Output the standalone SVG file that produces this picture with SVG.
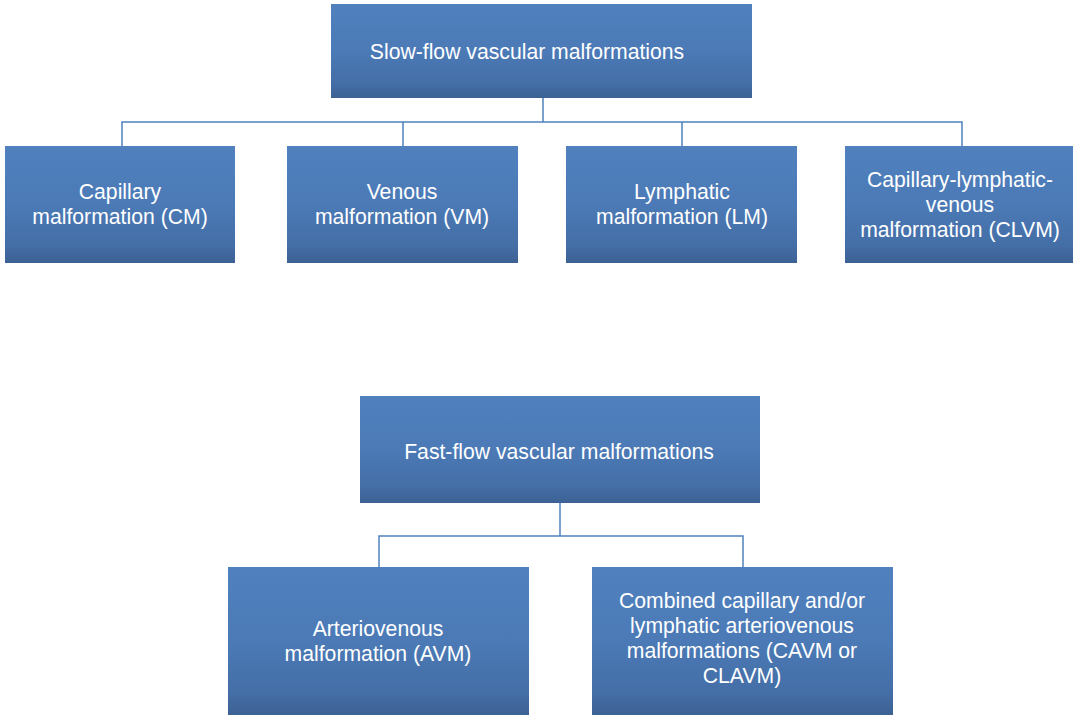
<svg xmlns="http://www.w3.org/2000/svg" width="1073" height="716" viewBox="0 0 1073 716">
<defs>
<linearGradient id="g" x1="0" y1="0" x2="0" y2="1">
<stop offset="0" stop-color="#5081BE"/>
<stop offset="0.5" stop-color="#4B7AB6"/>
<stop offset="0.85" stop-color="#446EA6"/>
<stop offset="1" stop-color="#3C6194"/>
</linearGradient>
<style>
.box{fill:url(#g);}
.t{font-family:"Liberation Sans",Arial,sans-serif;font-size:21.2px;fill:#FFFFFF;text-anchor:middle;}
.c{fill:none;stroke:#4F81BD;stroke-width:1.5;}
</style>
</defs>
<rect width="1073" height="716" fill="#FFFFFF"/>
<g id="connectors">
<path class="c" d="M543 98V122M122 146V122H962V146M403 122V146M682 122V146"/>
<path class="c" d="M560 503V536M379 567V536H743V567"/>
</g>
<g id="slow">
<rect class="box" x="331" y="4" width="421" height="94"/>
<text class="t" x="527" y="59">Slow-flow vascular malformations</text>
</g>
<g id="cm">
<rect class="box" x="5" y="146" width="230" height="117"/>
<text class="t" x="120" y="199">Capillary</text>
<text class="t" x="120" y="224">malformation (CM)</text>
</g>
<g id="vm">
<rect class="box" x="287" y="146" width="231" height="117"/>
<text class="t" x="402" y="199">Venous</text>
<text class="t" x="402" y="224">malformation (VM)</text>
</g>
<g id="lm">
<rect class="box" x="566" y="146" width="231" height="117"/>
<text class="t" x="682" y="199">Lymphatic</text>
<text class="t" x="682" y="224">malformation (LM)</text>
</g>
<g id="clvm">
<rect class="box" x="845" y="146" width="228" height="117"/>
<text class="t" x="960" y="187">Capillary-lymphatic-</text>
<text class="t" x="960" y="212">venous</text>
<text class="t" x="960" y="237">malformation (CLVM)</text>
</g>
<g id="fast">
<rect class="box" x="360" y="396" width="400" height="107"/>
<text class="t" x="559" y="459">Fast-flow vascular malformations</text>
</g>
<g id="avm">
<rect class="box" x="228" y="567" width="301" height="148"/>
<text class="t" x="378" y="636">Arteriovenous</text>
<text class="t" x="378" y="661">malformation (AVM)</text>
</g>
<g id="cavm">
<rect class="box" x="592" y="567" width="301" height="148"/>
<text class="t" x="742" y="608">Combined capillary and/or</text>
<text class="t" x="742" y="633">lymphatic arteriovenous</text>
<text class="t" x="742" y="658">malformations (CAVM or</text>
<text class="t" x="742" y="683">CLAVM)</text>
</g>
</svg>
